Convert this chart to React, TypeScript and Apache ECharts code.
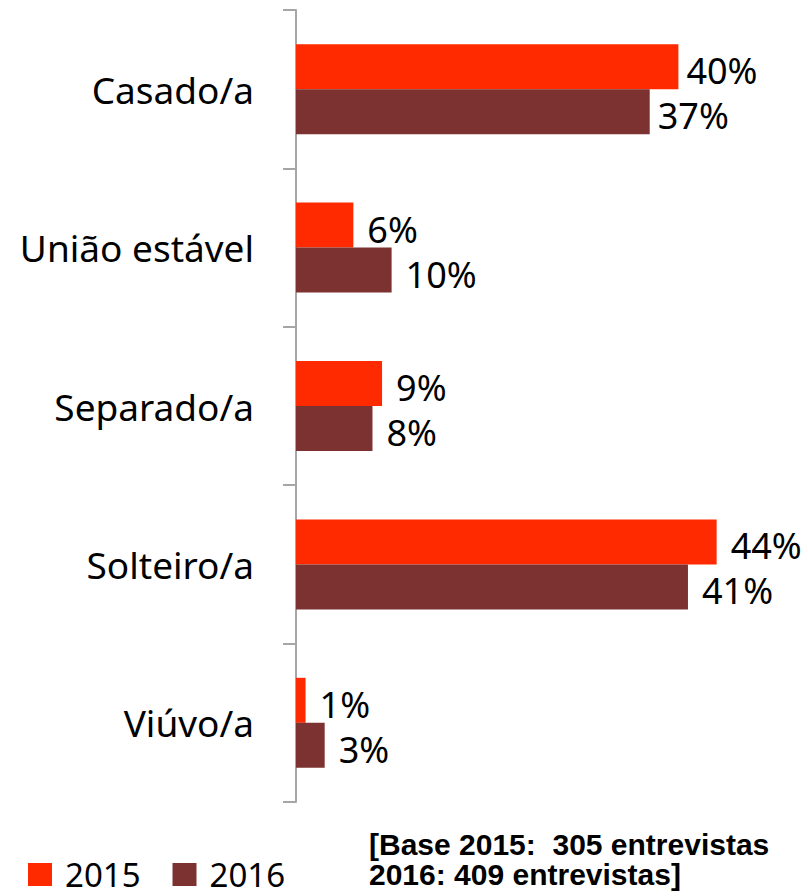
import React, { useEffect, useRef } from "react";
import * as echarts from "echarts";

const categories = ["Casado/a", "União estável", "Separado/a", "Solteiro/a", "Viúvo/a"];
const values2015 = [40, 6, 9, 44, 1];
const values2016 = [37, 10, 8, 41, 3];
const seriesNames = ["2015", "2016"];
const baseLines = ["[Base 2015:  305 entrevistas", "2016: 409 entrevistas]"];

export default function App() {
  const ref = useRef<HTMLDivElement>(null);
  useEffect(() => {
    if (!ref.current) return;
    const chart = echarts.init(ref.current, null, { renderer: "svg" });
    const labelStyle = {
      show: true,
      position: "right" as const,
      distance: 14,
      fontSize: 36,
      fontFamily: "Noto Sans, sans-serif",
      color: "#000",
      formatter: "{c}%",
      offset: [0, 4],
    };
    const withLabels = (vals: number[]) =>
      vals.map((v, i) => (i === 0 ? { value: v, label: { distance: 8 } } : v));
    chart.setOption({
      animation: false,
      backgroundColor: "#fff",
      grid: { left: 296, right: 34, top: 10, bottom: 94 },
      xAxis: {
        type: "value",
        min: 0,
        max: 50,
        show: false,
      },
      yAxis: {
        type: "category",
        data: categories,
        inverse: true,
        axisLine: { show: true, lineStyle: { color: "#a6a6a6", width: 2 } },
        axisTick: { show: true, length: 13, lineStyle: { color: "#a6a6a6", width: 2 } },
        axisLabel: {
          margin: 42,
          fontSize: 37,
          fontFamily: "Noto Sans, sans-serif",
          color: "#000",
        },
        splitLine: { show: false },
      },
      legend: {
        left: 28,
        top: 858,
        padding: 0,
        itemWidth: 24,
        itemHeight: 23,
        itemGap: 32,
        icon: "rect",
        textStyle: {
          fontSize: 33,
          lineHeight: 32,
          fontFamily: "Noto Sans, sans-serif",
          color: "#000",
          padding: [0, 0, 0, 8],
        },
        data: seriesNames,
      },
      series: [
        {
          name: seriesNames[0],
          type: "bar",
          data: withLabels(values2015),
          barWidth: 45,
          barGap: "0%",
          itemStyle: { color: "#ff2a00" },
          label: labelStyle,
        },
        {
          name: seriesNames[1],
          type: "bar",
          data: withLabels(values2016),
          barWidth: 45,
          barGap: "0%",
          itemStyle: { color: "#7b3230" },
          label: labelStyle,
        },
      ],
      graphic: [
        {
          type: "text",
          left: 369,
          top: 829,
          style: {
            text: baseLines.join("\n"),
            fontSize: 30,
            lineHeight: 30,
            fontWeight: "bold",
            fontFamily: "Liberation Sans, Arial, sans-serif",
            fill: "#000",
          },
        },
      ],
    });
    return () => chart.dispose();
  }, []);
  return (
    <div
      ref={ref}
      style={{ position: "fixed", left: 0, top: 0, width: 808, height: 896 }}
    />
  );
}
